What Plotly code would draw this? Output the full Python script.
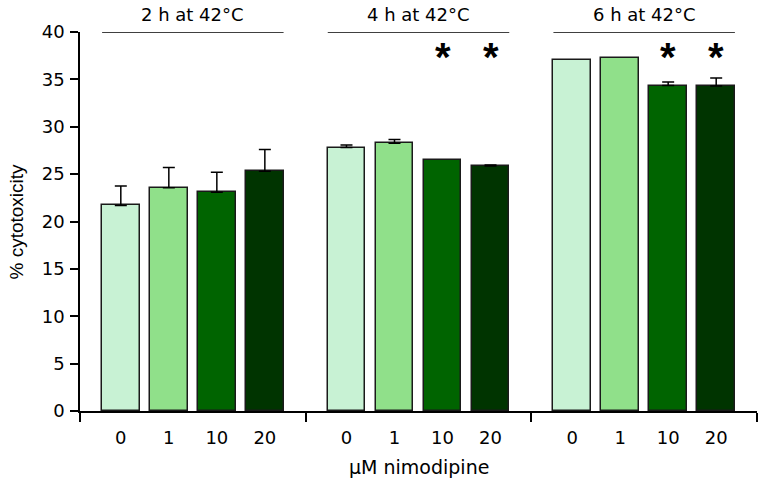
import plotly.graph_objects as go

groups = ["2 h at 42°C", "4 h at 42°C", "6 h at 42°C"]
doses = ["0", "1", "10", "20"]
values = [
    [21.7, 23.55, 23.1, 25.3],
    [27.8, 28.25, 26.45, 25.85],
    [37.0, 37.3, 34.35, 34.3],
]
errors = [
    [2.05, 2.15, 2.1, 2.3],
    [0.27, 0.4, 0.0, 0.1],
    [0.0, 0.0, 0.38, 0.85],
]
significant = [
    [False, False, False, False],
    [False, False, True, True],
    [False, False, True, True],
]
colors = ["#c8f2d4", "#90e08a", "#006400", "#003400"]

SEG = 4.7
BW = 0.78
FONT = "Liberation Sans, Arial, sans-serif"
WIDE = "DejaVu Sans, Liberation Sans, sans-serif"

fig = go.Figure()
centers = []
for g in range(len(groups)):
    xs = [g * SEG + SEG / 2 - 1.5 + i for i in range(len(doses))]
    centers.extend(xs)
    for i in range(len(doses)):
        fig.add_trace(go.Bar(
            x=[xs[i]], y=[values[g][i]], width=BW,
            marker=dict(color=colors[i], line=dict(color="#1a1a1a", width=1.5)),
            error_y=dict(type="data", symmetric=False, array=[errors[g][i]],
                         arrayminus=[0], color="black", thickness=1.5,
                         width=6, visible=errors[g][i] > 0),
            showlegend=False,
        ))
        if significant[g][i]:
            fig.add_annotation(x=xs[i], y=38.0, text="<b>*</b>", showarrow=False,
                               font=dict(size=40, color="black", family=FONT),
                               yanchor="middle", xanchor="center", yshift=-6)
    fig.add_shape(type="line", xref="x", yref="y",
                  x0=xs[0] - BW / 2, x1=xs[-1] + BW / 2, y0=40, y1=40,
                  line=dict(color="black", width=1.5))
    fig.add_annotation(x=g * SEG + SEG / 2, y=1.0, yref="paper", xref="x",
                       text=groups[g], showarrow=False, yshift=17.5,
                       font=dict(size=18, color="black", family=WIDE),
                       yanchor="middle")

# axis titles as annotations
fig.add_annotation(x=0.5, y=0, xref="paper", yref="paper", yshift=-56,
                   text="µM nimodipine", showarrow=False, yanchor="middle",
                   font=dict(size=19, color="black", family=WIDE))
fig.add_annotation(x=0, y=0.5, xref="paper", yref="paper", xshift=-64,
                   text="% cytotoxicity", showarrow=False, textangle=-90,
                   xanchor="center", yanchor="middle",
                   font=dict(size=19, color="black", family=FONT))

fig.update_layout(
    width=761, height=480, autosize=False,
    margin=dict(l=80, r=4, t=32, b=69),
    plot_bgcolor="white", paper_bgcolor="white",
    bargap=0,
    font=dict(family=WIDE, size=18, color="black"),
    xaxis=dict(
        range=[0, 3 * SEG], showline=True, linecolor="black", linewidth=1.5,
        tickmode="array", tickvals=centers, ticktext=doses * 3,
        ticks="", showgrid=False, zeroline=False, automargin=False,
        tickfont=dict(size=18, family=WIDE), ticklabelstandoff=10,
        minor=dict(tickmode="array", tickvals=[g * SEG for g in range(4)],
                   ticks="outside", ticklen=9, tickwidth=1.5, tickcolor="black",
                   showgrid=False),
    ),
    yaxis=dict(
        range=[0, 40], showline=True, linecolor="black", linewidth=1.5,
        tickvals=[0, 5, 10, 15, 20, 25, 30, 35, 40],
        ticks="outside", ticklen=8, tickwidth=1.5, tickcolor="black",
        showgrid=False, zeroline=False, tickfont=dict(size=18, family=WIDE),
        automargin=False, ticklabelstandoff=2,
    ),
)

# remove the default page margin so the figure fills the window exactly
fig.write_html("out.html", config={"displayModeBar": False},
               post_script="document.body.style.margin='0px';")
